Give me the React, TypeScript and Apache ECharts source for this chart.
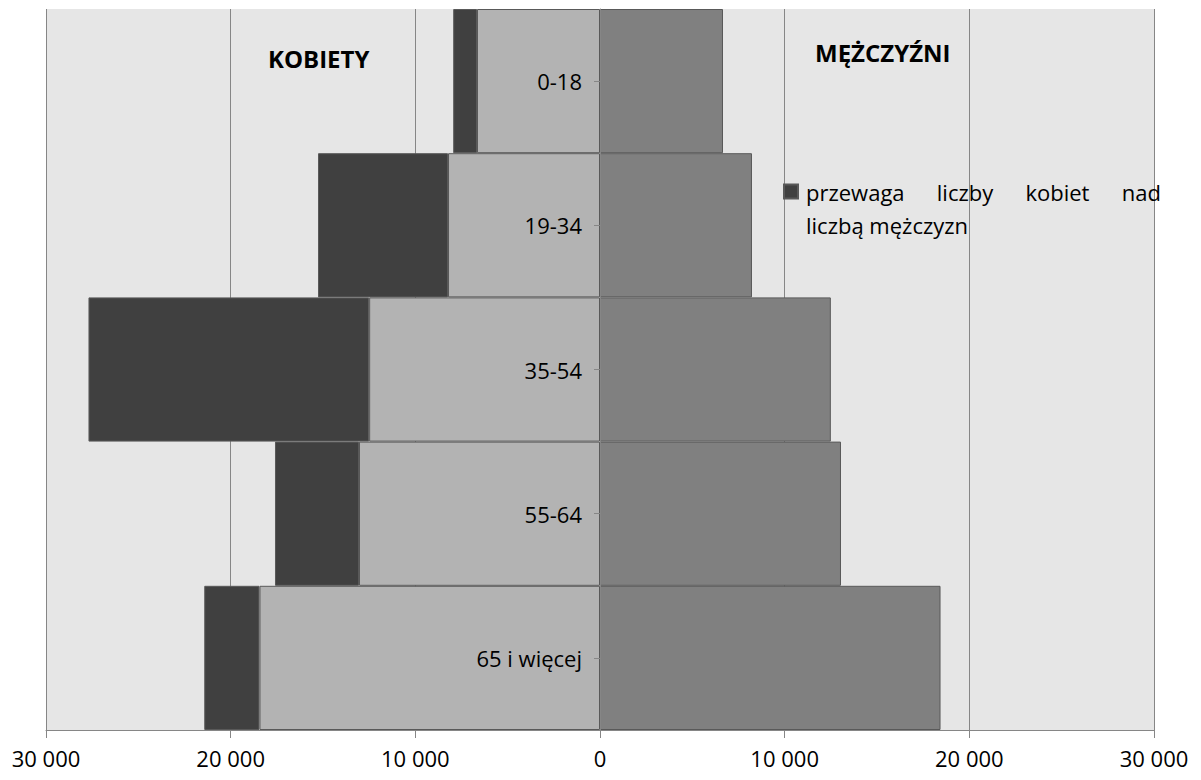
import React, { useEffect, useRef } from "react";
import * as echarts from "echarts";

const categories = ["0-18", "19-34", "35-54", "55-64", "65 i więcej"];
const women = [7950, 15270, 27700, 17600, 21430];
const men = [6660, 8230, 12500, 13050, 18440];
const xTicks = [-30000, -20000, -10000, 0, 10000, 20000, 30000];

const excessName = "przewaga liczby kobiet nad liczbą mężczyzn";
const FONT = "'Open Sans', sans-serif";

function fmt(v: number) {
  const a = Math.abs(v);
  if (a === 0) return "0";
  const s = String(a);
  return s.replace(/\B(?=(\d{3})+(?!\d))/g, " ");
}

export default function App() {
  const ref = useRef<HTMLDivElement>(null);
  useEffect(() => {
    if (!ref.current) return;
    const chart = echarts.init(ref.current, undefined, { renderer: "svg" });
    const womenBase = women.map((w, i) => -Math.min(w, men[i]));
    const womenExcess = women.map((w, i) => -Math.max(0, w - men[i]));
    const nb = "\u00a0\u00a0\u00a0\u00a0\u00a0\u2009";
    chart.setOption({
      animation: false,
      textStyle: { fontFamily: FONT },
      grid: {
        left: 46,
        right: 47,
        top: 9,
        bottom: 50,
        show: true,
        backgroundColor: "#e6e6e6",
        borderWidth: 0,
        containLabel: false,
        outerBoundsMode: "none",
      },
      legend: {
        data: [excessName],
        left: 783,
        top: 142,
        padding: 0,
        icon: "rect",
        itemWidth: 14,
        itemHeight: 14,
        itemGap: 6,
        formatter: () =>
          "\nprzewaga" + nb + "liczby" + nb + "kobiet" + nb + "nad\nliczbą mężczyzn",
        textStyle: {
          fontFamily: FONT,
          fontSize: 22,
          color: "#000",
          lineHeight: 33,
          padding: [0, 0, 0, 3],
        },
      },
      xAxis: {
        type: "value",
        min: -30000,
        max: 30000,
        interval: 10000,
        axisLine: { show: true, lineStyle: { color: "#868686", width: 1 } },
        axisTick: { show: true, length: 8, lineStyle: { color: "#868686" } },
        splitLine: { show: true, lineStyle: { color: "#868686", width: 1 } },
        axisLabel: {
          fontFamily: FONT,
          fontSize: 22,
          color: "#000",
          margin: 17,
          formatter: (v: number) => (xTicks.includes(v) ? fmt(v) : ""),
        },
      },
      yAxis: {
        type: "category",
        data: categories,
        inverse: true,
        position: "left",
        offset: -554,
        z: 5,
        axisLine: { show: true, onZero: false, lineStyle: { color: "#868686", width: 1 } },
        axisTick: { show: true, alignWithLabel: true, length: 6, lineStyle: { color: "#868686" } },
        splitLine: { show: false },
        axisLabel: {
          fontFamily: FONT,
          fontSize: 22,
          color: "#000",
          margin: 18,
        },
      },
      series: [
        {
          name: "kobiety",
          type: "bar",
          stack: "total",
          data: womenBase,
          barWidth: "100%",
          barCategoryGap: 0,
          itemStyle: { color: "#b3b3b3", borderColor: "#595959", borderWidth: 1 },
        },
        {
          name: excessName,
          type: "bar",
          stack: "total",
          data: womenExcess,
          barWidth: "100%",
          itemStyle: { color: "#404040", borderColor: "#595959", borderWidth: 1 },
        },
        {
          name: "mężczyźni",
          type: "bar",
          stack: "total",
          data: men,
          barWidth: "100%",
          itemStyle: { color: "#808080", borderColor: "#595959", borderWidth: 1 },
        },
      ],
      graphic: [
        {
          type: "text",
          left: 268,
          top: 46,
          style: { text: "KOBIETY", fontFamily: FONT, fontWeight: "bold", fontSize: 24, fill: "#000" },
        },
        {
          type: "text",
          left: 815,
          top: 40,
          style: { text: "MĘŻCZYŹNI", fontFamily: FONT, fontWeight: "bold", fontSize: 24, fill: "#000" },
        },
      ],
    });
    return () => chart.dispose();
  }, []);
  return (
    <div
      ref={ref}
      style={{ position: "absolute", left: 0, top: 0, width: 1201, height: 780 }}
    />
  );
}
